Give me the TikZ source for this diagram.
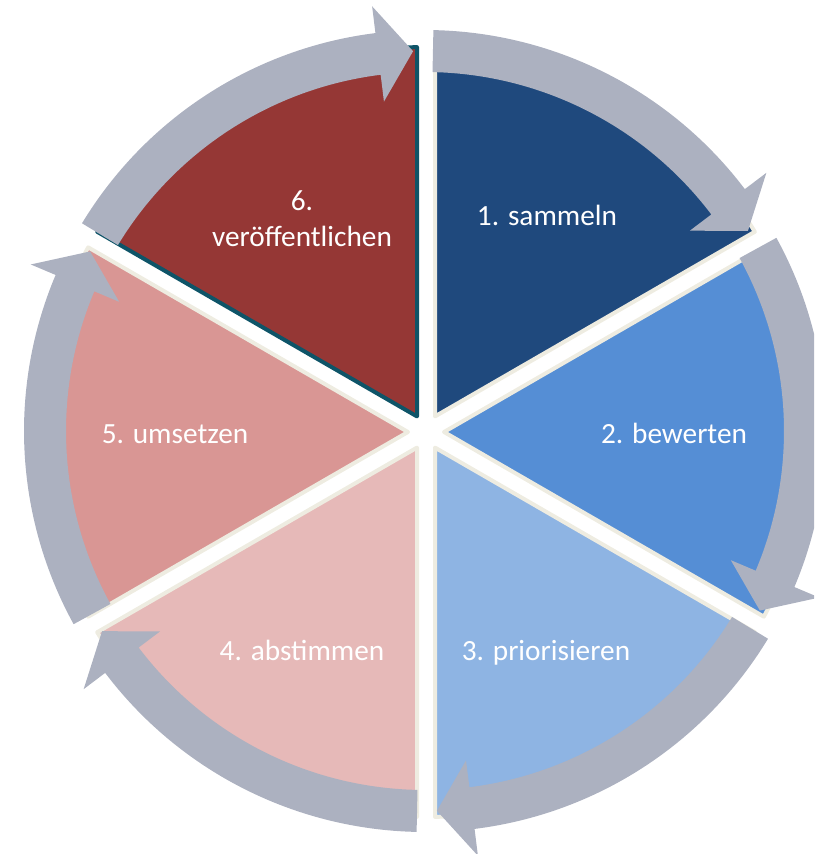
\documentclass[tikz,border=0pt]{standalone}
\usepackage{fontspec}
\setmainfont{Carlito}
\definecolor{sa}{RGB}{31,73,125}
\definecolor{sb}{RGB}{85,142,213}
\definecolor{sc}{RGB}{142,180,227}
\definecolor{sd}{RGB}{230,185,184}
\definecolor{se}{RGB}{217,150,148}
\definecolor{sf}{RGB}{149,55,53}
\definecolor{cream}{RGB}{238,236,225}
\definecolor{tealb}{RGB}{14,84,104}
\definecolor{arrowgrey}{RGB}{172,177,192}
\begin{document}
\begin{tikzpicture}[x=1pt,y=1pt]
\tikzset{
  sector/.style={line width=4pt, line join=round},
  ringarrow/.style={fill=arrowgrey, draw=none},
  lbl/.style={text=white, font=\fontsize{29.3}{36}\selectfont, anchor=base, inner sep=0pt}
}
\clip (0,0) rectangle (814,-854);
% sectors
\begin{scope}[shift={(426,-432)}]
\foreach \k/\col/\bd in {1/sa/cream,2/sb/cream,3/sc/cream,4/sd/cream,5/se/cream,6/sf/tealb} {
  \pgfmathsetmacro\sa{90-60*(\k-1)}
  \pgfmathsetmacro\sm{\sa-30}
  \pgfmathsetmacro\sp{\sa-1.34}
  \pgfmathsetmacro\sq{\sa-60+1.34}
  \path[sector, fill=\col, draw=\bd] (\sm:18) -- (\sp:385) arc[start angle=\sp, end angle=\sq, radius=385] -- cycle;
}
\end{scope}
% arrows
\begin{scope}[shift={(425,-431)}]
\foreach \k in {1,...,6} {
  \pgfmathsetmacro\at{90-60*(\k-1)-1.2}
  \pgfmathsetmacro\ae{\at-57}
  \pgfmathsetmacro\ah{\ae+5.3}
  \path[ringarrow] (\at:401) arc[start angle=\at, end angle=\ah, radius=401]
    -- (\ah:428) -- (\ae:380) -- (\ah:332) -- (\ah:359)
    arc[start angle=\ah, end angle=\at, radius=359] -- cycle;
}
\end{scope}
% labels
\node[lbl] (t1) at (547,-225) {1. sammeln};
\node[lbl] (t2) at (674,-443) {2. bewerten};
\node[lbl] (t3) at (546,-660) {3. priorisieren};
\node[lbl] (t4) at (302,-660) {4. abstimmen};
\node[lbl] (t5) at (175,-443) {5. umsetzen};
\node[lbl] (t6a) at (302,-210) {6.};
\node[lbl] (t6b) at (302,-246) {veröffentlichen};
\end{tikzpicture}
\end{document}
